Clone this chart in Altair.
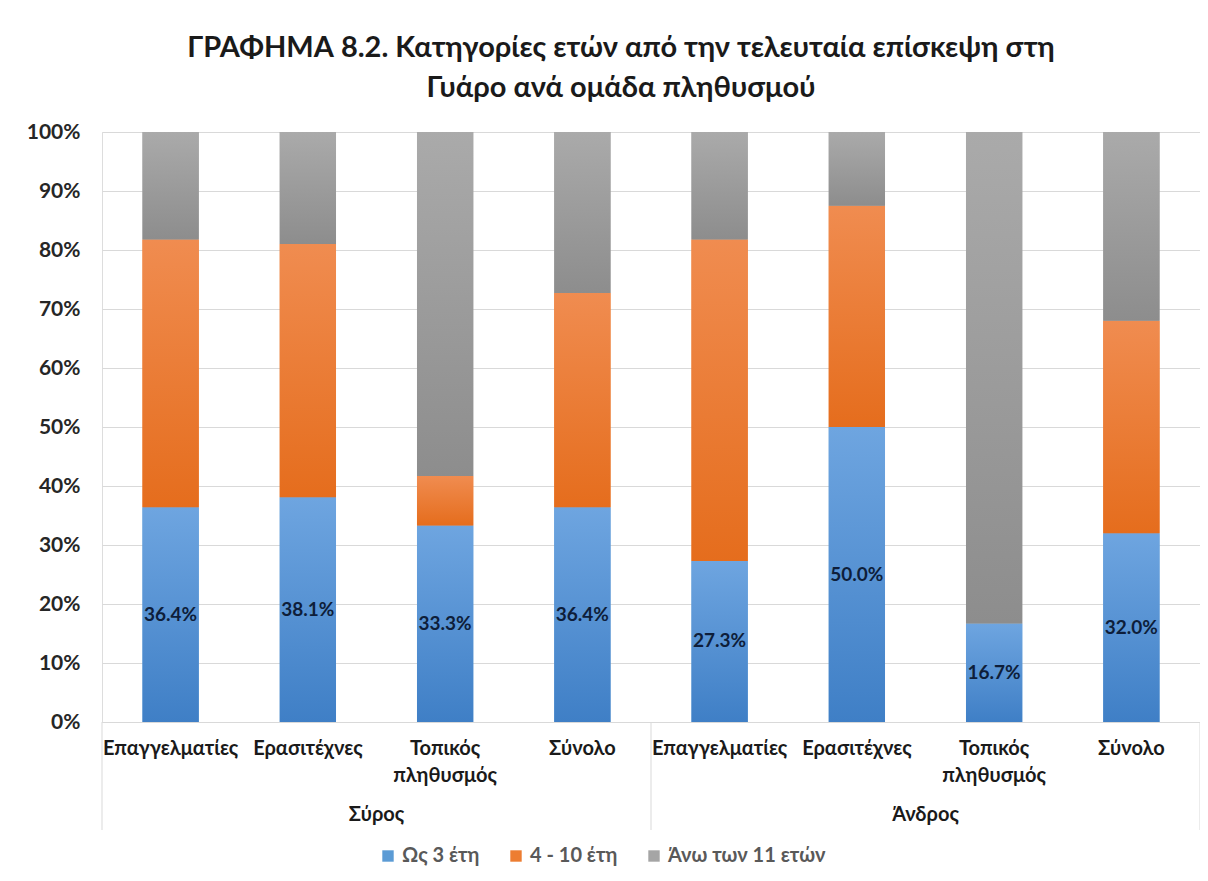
import altair as alt
import pandas as pd

# ---- data ----
groups = ["Σύρος"] * 4 + ["Άνδρος"] * 4
categories = ["Επαγγελματίες", "Ερασιτέχνες", "Τοπικός\nπληθυσμός", "Σύνολο"] * 2
series = ["Ως 3 έτη", "4 - 10 έτη", "Άνω των 11 ετών"]
up_to_3 = [36.4, 38.1, 33.3, 36.4, 27.3, 50.0, 16.7, 32.0]
y4_10 = [45.4, 42.9, 8.4, 36.3, 54.5, 37.5, 0.0, 36.0]
over_11 = [18.2, 19.0, 58.3, 27.3, 18.2, 12.5, 83.3, 32.0]
group_names = ["Σύρος", "Άνδρος"]

title_lines = ["ΓΡΑΦΗΜΑ 8.2. Κατηγορίες ετών από την τελευταία επίσκεψη στη",
               "Γυάρο ανά ομάδα πληθυσμού"]

FONT = "Lato"
W, H = 1098, 590
P_IN = 0.59
STEP = W / len(groups)
HALF_GAP = P_IN * STEP / 2  # distance from bar edge to band-step edge (px)

keys = [f"{g}|{c}" for g, c in zip(groups, categories)]

rows = []
for i, k in enumerate(keys):
    start = 0.0
    for s, vals in zip(series, [up_to_3, y4_10, over_11]):
        v = vals[i]
        rows.append({"key": k, "series": s, "value": v,
                     "y0": start / 100, "y1": (start + v) / 100,
                     "mid": (start + v / 2) / 100,
                     "label": f"{v:.1f}%"})
        start += v
df = pd.DataFrame(rows)

cat_df = pd.DataFrame({"key": keys, "cat": categories})
grp_df = pd.DataFrame({"key": [keys[1], keys[5]], "grp": group_names})
sep_l = pd.DataFrame({"key": [keys[0], keys[4]]})
sep_r = pd.DataFrame({"key": [keys[7]]})

xscale = alt.Scale(domain=keys, paddingInner=P_IN, paddingOuter=P_IN / 2)
xenc = alt.X("key:N", scale=xscale, sort=keys,
             axis=alt.Axis(labels=False, ticks=False, title=None,
                           domainColor="#d9d9d9", grid=False))
yscale = alt.Scale(domain=[0, 1])

flat_colors = ["#5b9bd5", "#ed7d31", "#a5a5a5"]
grads = {
    "Ως 3 έτη": ("#6ea5e0", "#3f7fc6"),
    "4 - 10 έτη": ("#f08c50", "#e56d1d"),
    "Άνω των 11 ετών": ("#aaaaaa", "#8d8d8d"),
}

base = alt.Chart(df).mark_bar().encode(
    x=xenc,
    y=alt.Y("y0:Q", scale=yscale,
            axis=alt.Axis(format=".0%", values=[i / 10 for i in range(11)],
                          title=None, domain=False, ticks=False,
                          labelFontSize=21, labelFontWeight="bold",
                          labelColor="#262626", labelPadding=22,
                          gridColor="#d9d9d9", labelFont=FONT)),
    y2="y1:Q",
    color=alt.Color("series:N", sort=series,
                    scale=alt.Scale(domain=series, range=flat_colors),
                    legend=alt.Legend(title=None, orient="none", direction="horizontal",
                                      legendX=276, legendY=714,
                                      symbolType="square", symbolSize=130,
                                      symbolStrokeWidth=0,
                                      labelFontSize=20, labelFontWeight="bold",
                                      labelColor="#595959", labelFont=FONT,
                                      columnPadding=26, labelOffset=4)),
)

layers = [base]
for s in series:
    top, bot = grads[s]
    g = alt.Gradient(gradient="linear", x1=0, x2=0, y1=0, y2=1,
                     stops=[alt.GradientStop(color=top, offset=0),
                            alt.GradientStop(color=bot, offset=1)])
    layers.append(
        alt.Chart(df).transform_filter(alt.datum.series == s)
        .transform_filter(alt.datum.value > 0)
        .mark_bar(color=g).encode(x=xenc, y=alt.Y("y0:Q", scale=yscale), y2="y1:Q")
    )

labels = alt.Chart(df).transform_filter(alt.datum.series == series[0]).mark_text(
    font=FONT, fontSize=19, fontWeight="bold", color="#0e1e3a"
).encode(x=xenc, y=alt.Y("mid:Q", scale=yscale), text="label:N")

cat_text = alt.Chart(cat_df).mark_text(
    font=FONT, fontSize=20, fontWeight="bold", color="#1a1a1a",
    baseline="top", lineBreak="\n", lineHeight=27
).encode(x=xenc, y=alt.value(H + 17), text="cat:N")

grp_text = alt.Chart(grp_df).mark_text(
    font=FONT, fontSize=20, fontWeight="bold", color="#1a1a1a", baseline="middle",
    dx=HALF_GAP
).encode(x=alt.X("key:N", scale=xscale, sort=keys, bandPosition=1),
         y=alt.value(H + 93), text="grp:N")

sep_left = alt.Chart(sep_l).mark_rule(color="#d9d9d9", xOffset=-HALF_GAP).encode(
    x=alt.X("key:N", scale=xscale, sort=keys, bandPosition=0),
    y=alt.value(H), y2=alt.value(H + 108))
sep_right = alt.Chart(sep_r).mark_rule(color="#d9d9d9", xOffset=HALF_GAP).encode(
    x=alt.X("key:N", scale=xscale, sort=keys, bandPosition=1),
    y=alt.value(H), y2=alt.value(H + 108))

chart = alt.layer(*layers, labels, cat_text, grp_text, sep_left, sep_right).properties(
    width=W, height=H,
    title=alt.TitleParams(text=title_lines, font=FONT, fontSize=29, fontWeight="bold",
                          color="#1a1a1a", anchor="middle", lineHeight=40, offset=18,
                          dx=-30),
    autosize=alt.AutoSizeParams(type="none"),
    padding={"left": 94, "top": 124, "right": 0, "bottom": 145},
).configure_view(stroke=None).configure(background="white")

chart.save("out.html", embed_options={"renderer": "svg", "actions": False})
